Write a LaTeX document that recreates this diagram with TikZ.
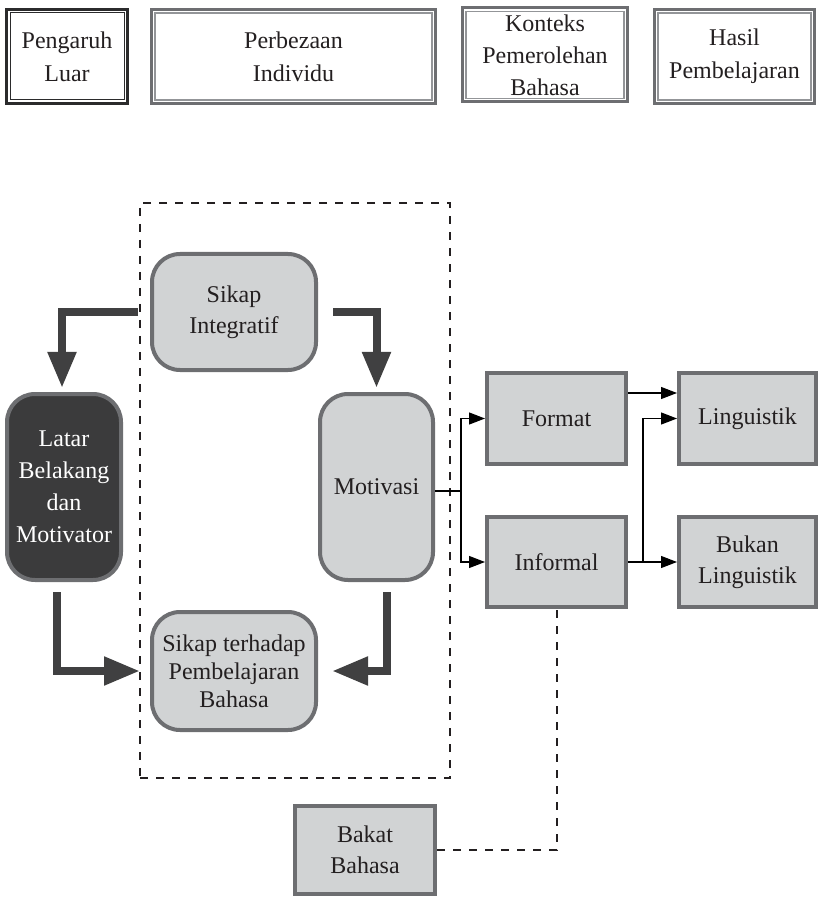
\documentclass[tikz,border=0pt]{standalone}
\usepackage{fontspec}
\setmainfont{Liberation Serif}
\usetikzlibrary{arrows.meta}
\definecolor{lg}{HTML}{D1D3D4}
\definecolor{bd}{HTML}{6D6E71}
\definecolor{bdl}{HTML}{939598}
\definecolor{dk}{HTML}{3B3B3C}
\definecolor{nearblack}{HTML}{2B2B2C}
\definecolor{ar}{HTML}{404041}
\definecolor{tx}{HTML}{231F20}
\begin{document}
\begin{tikzpicture}[x=0.5pt,y=-0.5pt,
  txt/.style={align=center, font=\fontsize{12}{15.5}\selectfont, text=tx, inner sep=1pt},
  topbox/.style={txt, draw=bd, line width=1.5pt, minimum height=47pt, font=\fontsize{12}{16.5}\selectfont},
  rbox/.style={txt, draw=bd, fill=lg, line width=2pt, rounded corners=14pt},
  sbox/.style={txt, draw=bd, fill=lg, line width=2pt},
  bigarrow/.style={draw=ar, line width=4pt, -{Triangle[width=13.5pt,length=18pt]}},
  thinline/.style={draw=black, line width=0.6pt},
  thinarrow/.style={thinline, -{Triangle[width=6pt,length=8pt]}},
  dashline/.style={draw=tx, line width=1pt, dash pattern=on 4pt off 4pt},
]
\useasboundingbox (0,0) rectangle (818,897);

% top legend boxes
\node[topbox, draw=nearblack, minimum width=60.5pt] (pl) at (67,56.5) {Pengaruh\\Luar};
\node[topbox, minimum width=142pt] (pb) at (293.5,56.5) {Perbezaan\\Individu};
\node[topbox, minimum width=82.5pt, font=\fontsize{12}{16}\selectfont] (kp) at (545,55) {Konteks\\Pemerolehan\\Bahasa};
\node[topbox, minimum width=80pt] (hp) at (734.5,56.5) {Hasil\\Pembelajaran};
\draw[nearblack, line width=0.5pt] ([shift={(2.5pt,-2.5pt)}]pl.north west) rectangle ([shift={(-2.5pt,2.5pt)}]pl.south east);
\foreach \n in {pb,kp,hp}
  \draw[bdl, line width=0.8pt] ([shift={(2.5pt,-2.5pt)}]\n.north west) rectangle ([shift={(-2.5pt,2.5pt)}]\n.south east);

% dashed group frame
\node[dashline, minimum width=155pt, minimum height=287.5pt, inner sep=0pt] (grp) at (295,490.5) {};

% rounded boxes
\node[rbox, minimum width=82pt, minimum height=58pt] (si) at (234,312) {Sikap\\Integratif};
\node[rbox, fill=dk, text=white, minimum width=57pt, minimum height=93pt, font=\fontsize{12}{16}\selectfont] (lb) at (64,487) {Latar\\Belakang\\dan\\Motivator};
\node[rbox, minimum width=56.5pt, minimum height=93pt] (mo) at (376.5,487) {Motivasi};
\node[rbox, minimum width=82pt, minimum height=59pt, font=\fontsize{12}{14}\selectfont] (st) at (234,671) {Sikap terhadap\\Pembelajaran\\Bahasa};

% square boxes
\node[sbox, minimum width=69.5pt, minimum height=45.5pt] (fo) at (556.5,418.5) {Format};
\node[sbox, minimum width=68.5pt, minimum height=45.5pt] (li) at (747.5,418.5) {Linguistik};
\node[sbox, minimum width=69.5pt, minimum height=45pt] (in) at (556.5,562) {Informal};
\node[sbox, minimum width=68.5pt, minimum height=45pt] (bl) at (747.5,562) {Bukan\\Linguistik};
\node[sbox, minimum width=70pt, minimum height=44pt] (bb) at (365,850) {Bakat\\Bahasa};

% thick arrows
\draw[bigarrow] ([xshift=-6pt]si.west) -| ([xshift=-1pt,yshift=2pt]lb.north);
\draw[bigarrow] ([xshift=7.5pt]si.east) -| ([yshift=2pt]mo.north);
\draw[bigarrow] ([xshift=-3.5pt,yshift=-5pt]lb.south) |- ([xshift=-5pt]st.west);
\draw[bigarrow] ([xshift=5.25pt,yshift=-5pt]mo.south) |- ([xshift=7pt]st.east);

% thin connectors
\coordinate (j1) at (461,491);
\coordinate (j2) at (643,561);
\draw[thinline] ([yshift=-2pt]mo.east) -- (j1);
\draw[thinarrow] (j1) |- (fo.west);
\draw[thinarrow] (j1) |- (in.west);
\draw[thinarrow] ([yshift=12.75pt]fo.east) -- ([yshift=12.75pt]li.west);
\draw[thinarrow] (in.east) -- (bl.west);
\draw[thinarrow] (j2) |- (li.west);

% dashed connector
\draw[dashline] (bb.east) -| (in.south);
\end{tikzpicture}
\end{document}
